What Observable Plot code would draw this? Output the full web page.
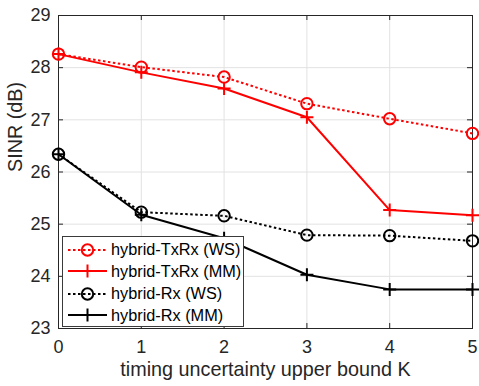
<!DOCTYPE html>
<html><head><meta charset="utf-8">
<script src="https://cdn.jsdelivr.net/npm/d3@7"></script>
<script src="https://cdn.jsdelivr.net/npm/@observablehq/plot@0.6"></script>
<style>
body{margin:0;background:#fff;}
#wrap{position:relative;width:479px;height:386px;font-family:"Liberation Sans",Arial,Helvetica,sans-serif;}
#legend{position:absolute;left:62px;top:236px;width:180px;height:89px;border:1px solid #3a3a3a;background:#fff;}
.row{position:absolute;left:0;height:20px;display:flex;align-items:center;white-space:nowrap;}
.row svg{margin-left:5px;margin-right:-1px;}
.row span{font-size:16.3px;color:#000;}
</style></head>
<body>
<div id="wrap"><div id="chart"></div><div id="legend"></div></div>
<script>
const K = [0, 1, 2, 3, 4, 5];
const seriesNames = ["hybrid-TxRx (WS)", "hybrid-TxRx (MM)", "hybrid-Rx (WS)", "hybrid-Rx (MM)"];
const txrxWS = [28.26, 28.01, 27.82, 27.31, 27.02, 26.74];
const txrxMM = [28.26, 27.91, 27.60, 27.05, 25.27, 25.17];
const rxWS   = [26.34, 25.23, 25.16, 24.79, 24.78, 24.68];
const rxMM   = [26.34, 25.18, 24.73, 24.03, 23.75, 23.75];
const seriesColors = ["#ff0000", "#ff0000", "#000000", "#000000"];
const seriesDash = ["2.5,2.5", null, "2.5,2.5", null];
const seriesMarker = ["circle", "plus", "circle", "plus"];
const xTicks = [0, 1, 2, 3, 4, 5];
const yTicks = [23, 24, 25, 26, 27, 28, 29];
const xLabel = "timing uncertainty upper bound K";
const yLabel = "SINR (dB)";

const W = 479, H = 386, mL = 58, mR = 7, mT = 15, mB = 58;
const fw = W - mL - mR, fh = H - mT - mB, tk = 5;
const values = [txrxWS, txrxMM, rxWS, rxMM];
const plusSym = {draw(ctx, size) { const a = Math.sqrt(size / Math.PI); ctx.moveTo(-a, 0); ctx.lineTo(a, 0); ctx.moveTo(0, -a); ctx.lineTo(0, a); }};
const symOf = m => m === "plus" ? plusSym : "circle";
const rOf = m => m === "plus" ? 6.5 : 5.7;
const fmt = d => String(d);

const seriesMarks = seriesNames.flatMap((name, i) => {
  const rows = K.map((k, j) => ({k, v: values[i][j]}));
  return [
    Plot.line(rows, {x: "k", y: "v", stroke: seriesColors[i], strokeWidth: 2, strokeDasharray: seriesDash[i] || undefined, strokeLinecap: "butt"}),
    Plot.dot(rows, {x: "k", y: "v", symbol: symOf(seriesMarker[i]), r: rOf(seriesMarker[i]), stroke: seriesColors[i], fill: "none", strokeWidth: 2})
  ];
});

const chart = Plot.plot({
  width: W, height: H,
  marginLeft: mL, marginRight: mR, marginTop: mT, marginBottom: mB,
  style: {fontFamily: '"Liberation Sans", Arial, Helvetica, sans-serif', background: "#fff", overflow: "visible"},
  x: {domain: [0, 5]},
  y: {domain: [23, 29]},
  marks: [
    Plot.gridX(xTicks, {stroke: "#e2e2e2", strokeOpacity: 1}),
    Plot.gridY(yTicks, {stroke: "#e2e2e2", strokeOpacity: 1}),
    Plot.tickX(xTicks, {x: d => d, insetTop: fh - tk, stroke: "#262626"}),
    Plot.tickX(xTicks, {x: d => d, insetBottom: fh - tk, stroke: "#262626"}),
    Plot.tickY(yTicks, {y: d => d, insetRight: fw - tk, stroke: "#262626"}),
    Plot.tickY(yTicks, {y: d => d, insetLeft: fw - tk, stroke: "#262626"}),
    Plot.frame({stroke: "#262626"}),
    Plot.axisX(xTicks, {tickSize: 0, tickPadding: 12, fontSize: 18, color: "#262626", label: null, tickFormat: fmt}),
    Plot.axisY(yTicks, {tickSize: 0, tickPadding: 8, fontSize: 18, color: "#262626", label: null, tickFormat: fmt}),
    Plot.text([xLabel], {text: d => d, frameAnchor: "bottom", dy: 47, fontSize: 19.8, fill: "#262626"}),
    Plot.text([yLabel], {text: d => d, frameAnchor: "left", dx: -43, rotate: -90, fontSize: 19.8, fill: "#262626"}),
    ...seriesMarks
  ]
});
document.getElementById("chart").appendChild(chart);

// legend
const leg = document.getElementById("legend");
const rowCenters = [12.5, 34, 56.5, 78];
seriesNames.forEach((name, i) => {
  const row = document.createElement("div");
  row.className = "row";
  row.style.top = (rowCenters[i] - 10) + "px";
  const ns = "http://www.w3.org/2000/svg";
  const svg = document.createElementNS(ns, "svg");
  svg.setAttribute("width", 44); svg.setAttribute("height", 20);
  const ln = document.createElementNS(ns, "line");
  ln.setAttribute("x1", 0); ln.setAttribute("x2", 39); ln.setAttribute("y1", 10); ln.setAttribute("y2", 10);
  ln.setAttribute("stroke", seriesColors[i]); ln.setAttribute("stroke-width", 2);
  if (seriesDash[i]) ln.setAttribute("stroke-dasharray", seriesDash[i]);
  svg.appendChild(ln);
  if (seriesMarker[i] === "circle") {
    const c = document.createElementNS(ns, "circle");
    c.setAttribute("cx", 19.5); c.setAttribute("cy", 10); c.setAttribute("r", 5.7);
    c.setAttribute("fill", "none"); c.setAttribute("stroke", seriesColors[i]); c.setAttribute("stroke-width", 2);
    svg.appendChild(c);
  } else {
    const p = document.createElementNS(ns, "path");
    p.setAttribute("d", "M13,10H26M19.5,3.5V16.5");
    p.setAttribute("fill", "none"); p.setAttribute("stroke", seriesColors[i]); p.setAttribute("stroke-width", 2);
    svg.appendChild(p);
  }
  row.appendChild(svg);
  const sp = document.createElement("span");
  sp.textContent = name;
  row.appendChild(sp);
  leg.appendChild(row);
});
</script>
</body></html>
